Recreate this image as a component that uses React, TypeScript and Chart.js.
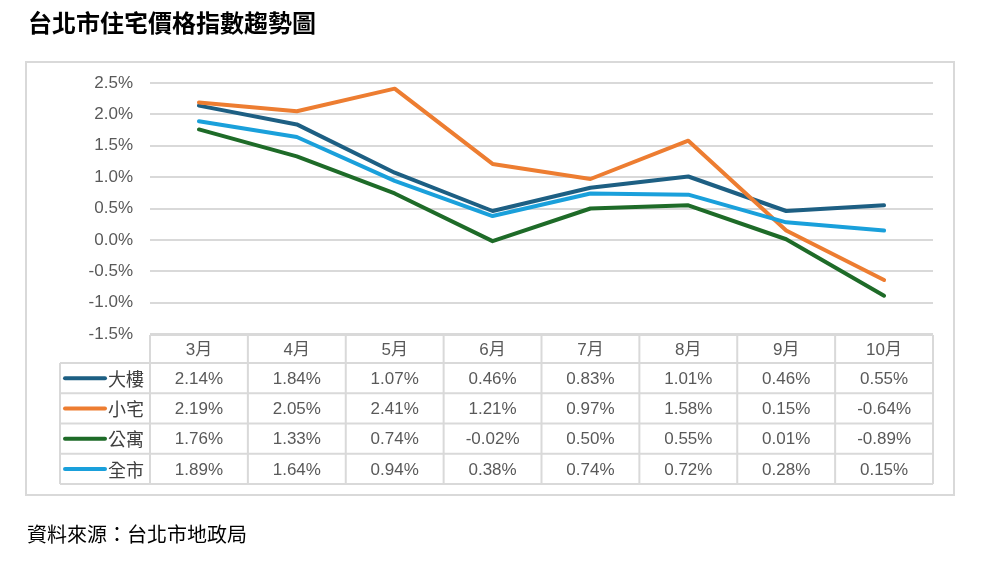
import React, { useEffect, useRef } from "react";
import { Chart, registerables } from "chart.js";

Chart.register(...registerables);

const titleText = "台北市住宅價格指數趨勢圖";
const sourceText = "資料來源：台北市地政局";
const months = ["3月", "4月", "5月", "6月", "7月", "8月", "9月", "10月"];
const seriesNames = ["大樓", "小宅", "公寓", "全市"];
const tower = [2.14, 1.84, 1.07, 0.46, 0.83, 1.01, 0.46, 0.55];
const suite = [2.19, 2.05, 2.41, 1.21, 0.97, 1.58, 0.15, -0.64];
const apartment = [1.76, 1.33, 0.74, -0.02, 0.5, 0.55, 0.01, -0.89];
const city = [1.89, 1.64, 0.94, 0.38, 0.74, 0.72, 0.28, 0.15];
const seriesColors = ["#1d5f83", "#ed7d31", "#1e6b28", "#1aa0db"];
const yMin = -1.5;
const yMax = 2.5;
const yStep = 0.5;

const allSeries = [tower, suite, apartment, city];

const GRID = "#d9d9d9";
const FONT = "'Liberation Sans', Arial, 'Noto Sans CJK TC', sans-serif";

const tablePlugin = {
  id: "dataTable",
  beforeDraw(chart: any) {
    const ctx = chart.ctx;
    ctx.save();
    ctx.strokeStyle = GRID;
    ctx.lineWidth = 2;
    ctx.strokeRect(26, 62, 928, 433);
    ctx.restore();
  },
  afterDraw(chart: any) {
    const { ctx, chartArea } = chart;
    const xs = chart.scales.x;
    const left = chartArea.left;
    const right = chartArea.right;
    const n = months.length;
    const colW = (right - left) / n;
    const top = chartArea.bottom + 1;
    const headerH = 28;
    const rowH = 30.25;
    const legendLeft = 60;
    const rowsTop = top + headerH;
    const bottom = rowsTop + rowH * seriesNames.length;

    ctx.save();
    ctx.strokeStyle = GRID;
    ctx.lineWidth = 2;
    ctx.beginPath();
    ctx.moveTo(left, top);
    ctx.lineTo(right, top);
    for (let r = 0; r <= seriesNames.length; r++) {
      const y = rowsTop + r * rowH;
      ctx.moveTo(legendLeft, y);
      ctx.lineTo(right, y);
    }
    for (let c = 0; c <= n; c++) {
      const x = left + c * colW;
      ctx.moveTo(x, top);
      ctx.lineTo(x, bottom);
    }
    ctx.moveTo(legendLeft, rowsTop);
    ctx.lineTo(legendLeft, bottom);
    ctx.stroke();

    ctx.fillStyle = "#595959";
    ctx.font = "17px " + FONT;
    ctx.textAlign = "center";
    ctx.textBaseline = "middle";
    for (let c = 0; c < n; c++) {
      const cx = xs.getPixelForValue(c);
      ctx.fillText(months[c], cx, top + headerH / 2 + 1);
    }
    for (let r = 0; r < seriesNames.length; r++) {
      const cy = rowsTop + r * rowH + rowH / 2 + 1;
      for (let c = 0; c < n; c++) {
        const cx = xs.getPixelForValue(c);
        ctx.fillText(allSeries[r][c].toFixed(2) + "%", cx, cy);
      }
      ctx.strokeStyle = seriesColors[r];
      ctx.lineWidth = 4;
      ctx.lineCap = "round";
      ctx.beginPath();
      ctx.moveTo(65, cy - 1);
      ctx.lineTo(105, cy - 1);
      ctx.stroke();
      ctx.textAlign = "left";
      ctx.font = "18px 'Noto Sans CJK TC', sans-serif";
      ctx.fillStyle = "#404040";
      ctx.fillText(seriesNames[r], 108, cy);
      ctx.font = "17px " + FONT;
      ctx.fillStyle = "#595959";
      ctx.textAlign = "center";
    }
    ctx.restore();
  },
};

export default function App() {
  const canvasRef = useRef<HTMLCanvasElement | null>(null);

  useEffect(() => {
    document.body.style.margin = "0";
    const canvas = canvasRef.current;
    if (!canvas) return;
    const chart = new Chart(canvas, {
      type: "line",
      data: {
        labels: months,
        datasets: allSeries.map((s, i) => ({
          label: seriesNames[i],
          data: s,
          borderColor: seriesColors[i],
          backgroundColor: seriesColors[i],
          borderWidth: 4,
          pointRadius: 0,
          tension: 0,
          borderCapStyle: "round" as const,
          borderJoinStyle: "round" as const,
          order: seriesNames.length - i,
        })),
      },
      options: {
        animation: false,
        responsive: false,
        maintainAspectRatio: false,
        devicePixelRatio: 1,
        layout: { padding: { left: 26, right: 52, top: 83, bottom: 228 } },
        plugins: {
          legend: { display: false },
          tooltip: { enabled: false },
          title: { display: false },
        },
        scales: {
          x: {
            type: "category",
            display: false,
            offset: true,
          },
          y: {
            min: yMin,
            max: yMax,
            afterFit(scale: any) {
              scale.width = 124;
            },
            border: { display: false },
            grid: { color: GRID, lineWidth: 2, drawTicks: false },
            ticks: {
              stepSize: yStep,
              padding: 17,
              color: "#595959",
              font: { size: 17, family: FONT },
              callback: (v: any) => Number(v).toFixed(1) + "%",
            },
          },
        },
      },
      plugins: [tablePlugin],
    });
    return () => chart.destroy();
  }, []);

  return (
    <div style={{ position: "absolute", left: 0, top: 0, width: 985, height: 562, background: "#fff", overflow: "hidden" }}>
      <canvas ref={canvasRef} width={985} height={562} style={{ position: "absolute", left: 0, top: 0, width: 985, height: 562 }} />
      <div
        style={{
          position: "absolute",
          left: 28,
          top: 10,
          fontFamily: "'Noto Sans CJK TC', sans-serif",
          fontWeight: 700,
          fontSize: 24,
          lineHeight: "24px",
          color: "#000",
          whiteSpace: "nowrap",
        }}
      >
        {titleText}
      </div>
      <div
        style={{
          position: "absolute",
          left: 27,
          top: 524,
          fontFamily: "'Noto Sans CJK TC', sans-serif",
          fontWeight: 400,
          fontSize: 20,
          lineHeight: "20px",
          color: "#000",
          whiteSpace: "nowrap",
        }}
      >
        {sourceText}
      </div>
    </div>
  );
}
